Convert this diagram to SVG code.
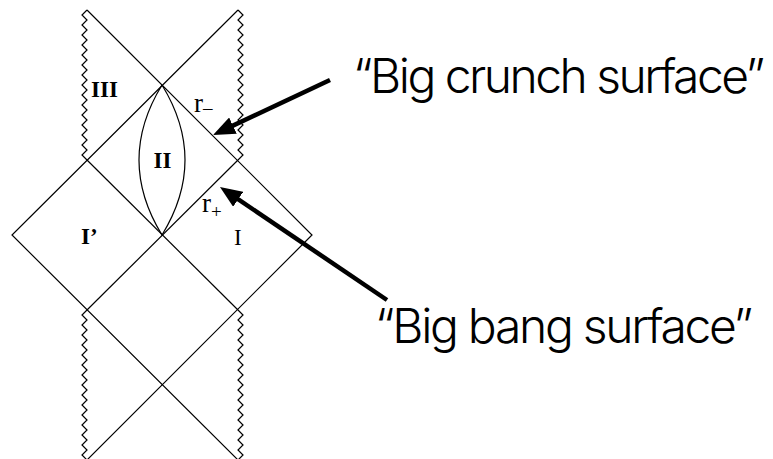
<svg xmlns="http://www.w3.org/2000/svg" width="773" height="459" viewBox="0 0 773 459">
<style>
.ln{fill:none;stroke:#000;stroke-width:1.2;stroke-linejoin:miter}
.rn{font-family:"Liberation Serif","Times New Roman",serif;font-size:23px;font-weight:bold;fill:#000}
.rg{font-family:"Liberation Serif","Times New Roman",serif;fill:#000}
.cap{font-family:Inter,"Liberation Sans",Arial,sans-serif;font-weight:300;font-size:48px;fill:#000}
.arr{stroke:#000;stroke-width:4.5;fill:none}
</style>
<defs>
<marker id="ah" markerUnits="userSpaceOnUse" viewBox="0 0 22 18" refX="10" refY="9" markerWidth="22" markerHeight="18" orient="auto">
<path d="M0,0 L22,9 L0,18 z" fill="#000"/>
</marker>
</defs>
<g id="lines">
<path class="ln" d="M87,10 L312,235 L87,460"/>
<path class="ln" d="M238,10 L12,235 L238,460"/>
<path class="ln" d="M87,160 L238,310"/>
<path class="ln" d="M238,160 L87,310"/>
</g>
<g id="singularities">
<path class="ln" d="M87,10 l-5,5 5,5 -5,5 5,5 -5,5 5,5 -5,5 5,5 -5,5 5,5 -5,5 5,5 -5,5 5,5 -5,5 5,5 -5,5 5,5 -5,5 5,5 -5,5 5,5 -5,5 5,5 -5,5 5,5 -5,5 5,5 -5,5 5,5"/>
<path class="ln" d="M238,10 l5,5 -5,5 5,5 -5,5 5,5 -5,5 5,5 -5,5 5,5 -5,5 5,5 -5,5 5,5 -5,5 5,5 -5,5 5,5 -5,5 5,5 -5,5 5,5 -5,5 5,5 -5,5 5,5 -5,5 5,5 -5,5 5,5 -5,5"/>
<path class="ln" d="M87,310 l-5,5 5,5 -5,5 5,5 -5,5 5,5 -5,5 5,5 -5,5 5,5 -5,5 5,5 -5,5 5,5 -5,5 5,5 -5,5 5,5 -5,5 5,5 -5,5 5,5 -5,5 5,5 -5,5 5,5 -5,5 5,5 -5,5 5,5"/>
<path class="ln" d="M238,310 l5,5 -5,5 5,5 -5,5 5,5 -5,5 5,5 -5,5 5,5 -5,5 5,5 -5,5 5,5 -5,5 5,5 -5,5 5,5 -5,5 5,5 -5,5 5,5 -5,5 5,5 -5,5 5,5 -5,5 5,5 -5,5 5,5 -5,5"/>
</g>
<g id="lens">
<path class="ln" d="M162,85 Q116,160 162,235 Q208,160 162,85"/>
</g>
<g id="labels">
<text class="rn" x="91" y="97">III</text>
<text class="rn" x="162.5" y="168" text-anchor="middle">II</text>
<text class="rn" x="81" y="244">I’</text>
<text class="rg" x="234" y="245" font-size="23">I</text>
<text class="rg" x="194" y="112" font-size="27">r<tspan font-size="19" dy="2">–</tspan></text>
<text class="rg" x="202" y="212" font-size="27">r<tspan font-size="19" dy="6">+</tspan></text>
</g>
<g id="connectors">
<line class="arr" x1="330" y1="80" x2="223.9" y2="129.9" marker-end="url(#ah)"/>
<line class="arr" x1="387" y1="300" x2="229.9" y2="193.7" marker-end="url(#ah)"/>
</g>
<g id="captions">
<text class="cap" x="353" y="93" textLength="412">“Big crunch surface”</text>
<text class="cap" x="375" y="343" textLength="378">“Big bang surface”</text>
</g>
</svg>
